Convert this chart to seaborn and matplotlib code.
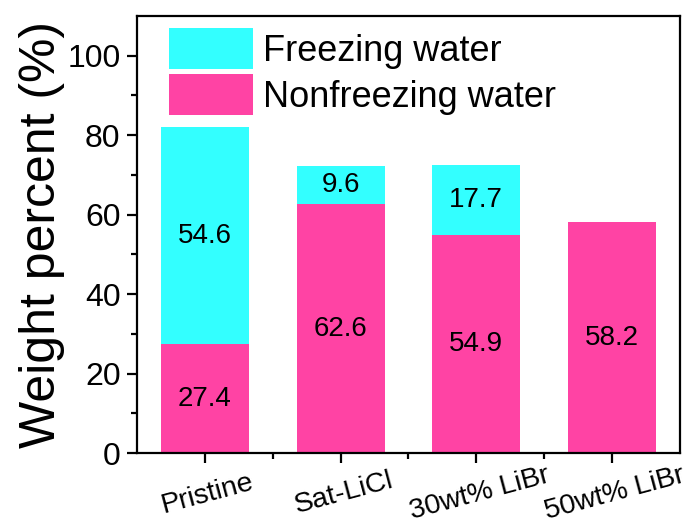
import matplotlib
matplotlib.use("Agg")
import matplotlib.pyplot as plt
import matplotlib.transforms as mtransforms
import seaborn as sns
import pandas as pd
from matplotlib.ticker import FixedLocator
from matplotlib.patches import Patch

categories = ["Pristine", "Sat-LiCl", "30wt% LiBr", "50wt% LiBr"]
nonfreezing = [27.4, 62.6, 54.9, 58.2]
freezing = [54.6, 9.6, 17.7, 0.0]
series_names = ["Freezing water", "Nonfreezing water"]

cyan = "#33FFFF"
pink = "#FF43A4"

sns.set_theme(style="ticks")
plt.rcParams["font.family"] = ["Liberation Sans", "DejaVu Sans"]
plt.rcParams["text.color"] = "black"
plt.rcParams["axes.labelcolor"] = "black"
plt.rcParams["xtick.color"] = "black"
plt.rcParams["ytick.color"] = "black"

df = pd.DataFrame({"cat": categories, "non": nonfreezing, "frz": freezing})
df["total"] = df["non"] + df["frz"]

fig = plt.figure(figsize=(7.0, 5.27), dpi=100)
ax = fig.add_axes([0.196, 0.140, 0.775, 0.830])

sns.barplot(data=df, x="cat", y="total", color=cyan, saturation=1, width=0.65,
            linewidth=0, ax=ax)
sns.barplot(data=df, x="cat", y="non", color=pink, saturation=1, width=0.65,
            linewidth=0, ax=ax)

for i, (n, f) in enumerate(zip(nonfreezing, freezing)):
    ax.text(i, n / 2, f"{n:.1f}", ha="center", va="center", fontsize=20, color="black")
    if f > 0:
        ax.text(i, n + f / 2, f"{f:.1f}", ha="center", va="center", fontsize=20, color="black")

ax.set_ylim(0, 110)
ax.set_xlim(-0.5, 3.5)
ax.yaxis.set_major_locator(FixedLocator([0, 20, 40, 60, 80, 100]))
ax.yaxis.set_minor_locator(FixedLocator([10, 30, 50, 70, 90]))
ax.xaxis.set_minor_locator(FixedLocator([0.5, 1.5, 2.5]))

ax.set_xlabel("")
ax.set_ylabel("Weight percent (%)", fontsize=36, labelpad=2)

for s in ax.spines.values():
    s.set_visible(True)
    s.set_linewidth(1.6)
    s.set_color("black")

ax.tick_params(axis="y", which="major", length=7, width=1.6, labelsize=23, pad=5, color="black")
ax.tick_params(axis="y", which="minor", length=4, width=1.6, color="black")
ax.tick_params(axis="x", which="major", length=7, width=1.6, labelsize=20.5, pad=22, color="black")
ax.tick_params(axis="x", which="minor", length=4, width=1.6, color="black")
ax.tick_params(top=False, right=False, which="both")

offset = mtransforms.ScaledTranslation(3 / 100, 0, fig.dpi_scale_trans)
for lab in ax.get_xticklabels():
    lab.set_rotation(15)
    lab.set_rotation_mode("anchor")
    lab.set_ha("center")
    lab.set_va("center")
    lab.set_transform(lab.get_transform() + offset)

handles = [Patch(facecolor=cyan, edgecolor="none"), Patch(facecolor=pink, edgecolor="none")]
ax.legend(handles, series_names, loc="upper left", bbox_to_anchor=(0.059, 0.972),
          frameon=False, fontsize=26, handlelength=2.33, handleheight=1.37,
          labelspacing=0.14, handletextpad=0.28, borderpad=0, borderaxespad=0)

fig.savefig("out.png", dpi=100)
